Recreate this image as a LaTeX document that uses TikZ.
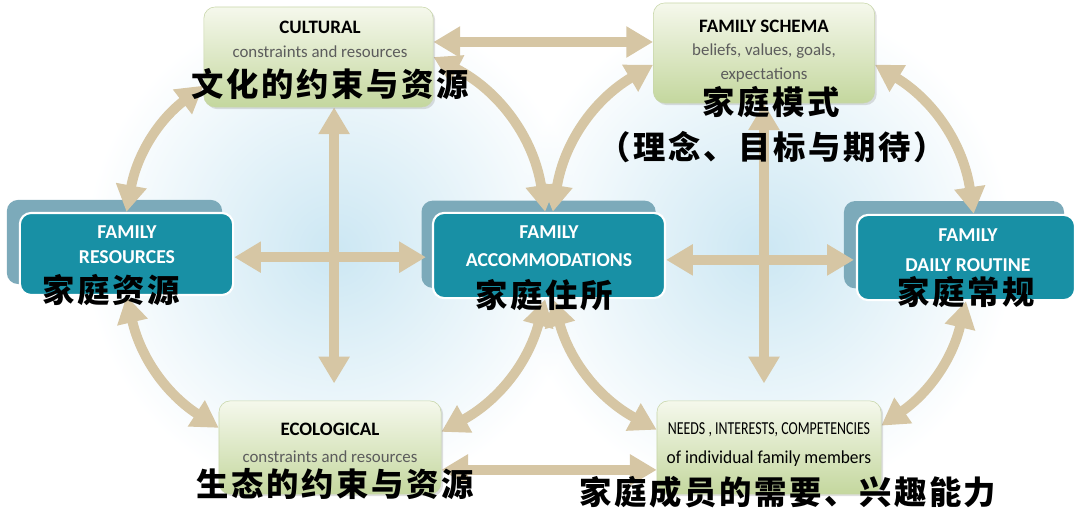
\documentclass[tikz,border=0pt]{standalone}
\usepackage{fontspec}
\setmainfont{Carlito}
\newfontfamily\cjk[LetterSpace=8]{Noto Sans CJK SC}
\usetikzlibrary{arrows.meta,positioning,shadows,fadings}

\definecolor{tanarrow}{RGB}{214,198,164}
\definecolor{boxteal}{RGB}{24,144,165}
\definecolor{backteal}{RGB}{124,170,186}
\definecolor{greentop}{RGB}{245,248,236}
\definecolor{greenbot}{RGB}{196,215,158}
\definecolor{greenline}{RGB}{200,214,170}
\definecolor{subgray}{RGB}{92,92,92}
\definecolor{glowblue}{RGB}{204,231,243}

\pgfdeclarelayer{bg}
\pgfsetlayers{bg,main}
\tikzfading[name=glowfade, inner color=transparent!0, outer color=transparent!100]

\begin{document}
\begin{tikzpicture}[x=0.025cm, y=0.025cm,
	arrowdbl/.style={line width=7pt, draw=tanarrow, {Triangle[width=21pt,length=19pt]}-{Triangle[width=21pt,length=19pt]}},
	greenbox/.style={rounded corners=8pt, draw=greenline, top color=greentop, bottom color=greenbot, drop shadow={shadow xshift=1.5pt, shadow yshift=-1.5pt, opacity=0.25}},
	tealbox/.style={rounded corners=8pt, fill=boxteal, draw=white, line width=1.5pt},
	backbox/.style={rounded corners=8pt, fill=backteal},
	greentxt/.style={align=center, text=subgray, inner sep=0pt, font=\fontsize{12}{17}\selectfont},
	tealtxt/.style={align=center, text=white, inner sep=0pt, font=\bfseries\fontsize{14}{19}\selectfont},
	cntxt/.style={inner sep=0pt, font=\cjk\bfseries\fontsize{23}{26}\selectfont}
	]
	\useasboundingbox (0,0) rectangle (1080,531);

	% boxes
	\node[greenbox, minimum width=5.73cm, minimum height=2.5cm] (cult) at (318.5,474) {};
	\node[greenbox, minimum width=5.53cm, minimum height=2.5cm] (schema) at (764,478) {};
	\node[greenbox, minimum width=5.55cm, minimum height=2.33cm] (eco) at (330,83.5) {};
	\node[greenbox, minimum width=5.6cm, minimum height=2.33cm] (needs) at (769,83.5) {};
	\node[tealbox, minimum width=5.33cm, minimum height=2.05cm] (res) at (126.5,277) {};
	\node[tealbox, minimum width=5.8cm, minimum height=2.13cm] (acc) at (549,275.5) {};
	\node[tealbox, minimum width=5.45cm, minimum height=2.13cm] (rout) at (966,273.5) {};

	\node[greentxt] (culttxt) at (320,492) {{\color{black}\bfseries\fontsize{13.5}{17}\selectfont CULTURAL}\\constraints and resources};
	\node[greentxt, font=\fontsize{12}{16.5}\selectfont] (schematxt) at (764,480) {{\color{black}\bfseries\fontsize{13.5}{16.5}\selectfont FAMILY SCHEMA}\\beliefs, values, goals,\\expectations};
	\node[greentxt, font=\fontsize{12}{19}\selectfont] (ecotxt) at (330,88.5) {{\color{black}\bfseries\fontsize{13.5}{19}\selectfont ECOLOGICAL}\\constraints and resources};
	\node[greentxt, text=black, font=\fontsize{13}{20.6}\selectfont] (needstxt) at (769,86.5) {\scalebox{0.76}[1]{NEEDS , INTERESTS, COMPETENCIES}\\\scalebox{0.95}[1]{of individual family members}};
	\node[tealtxt, font=\bfseries\fontsize{14}{17.8}\selectfont] (restxt) at (127,286.5) {FAMILY\\RESOURCES};
	\node[tealtxt, font=\bfseries\fontsize{14}{20}\selectfont] (acctxt) at (549,285) {FAMILY\\ACCOMMODATIONS};
	\node[tealtxt, font=\bfseries\fontsize{14}{21}\selectfont] (routtxt) at (968,281) {FAMILY\\DAILY ROUTINE};

	\node[cntxt] (cultcn) at (330,447) {文化的约束与资源};
	\node[cntxt] (schemacn) at (771,429) {家庭模式};
	\node[cntxt] (schemacn2) at (772,384) {（理念、目标与期待）};
	\node[cntxt] (rescn) at (111,241) {家庭资源};
	\node[cntxt] (acccn) at (544,236) {家庭住所};
	\node[cntxt] (routcn) at (966,239) {家庭常规};
	\node[cntxt] (ecocn) at (335,47) {生态的约束与资源};
	\node[cntxt] (needscn) at (788,39) {家庭成员的需要、兴趣能力};

	\begin{pgfonlayer}{bg}
		\fill[glowblue, path fading=glowfade] (335,281) circle (250);
		\fill[glowblue, path fading=glowfade] (763,281) circle (250);
		\fill[backbox] ([shift={(-0.3cm,0.3cm)}]res.south west) rectangle ([shift={(-0.3cm,0.3cm)}]res.north east);
		\fill[backbox] ([shift={(-0.26cm,0.28cm)}]acc.south west) rectangle ([shift={(-0.26cm,0.28cm)}]acc.north east);
		\fill[backbox] ([shift={(-0.3cm,0.32cm)}]rout.south west) rectangle ([shift={(-0.3cm,0.32cm)}]rout.north east);

		% straight
		\draw[arrowdbl] ([yshift=0.375cm]cult.east) -- ([yshift=0.375cm]cult.east -| schema.west);
		\draw[arrowdbl] ([yshift=-0.56cm]eco.east) -- ([yshift=-0.56cm]eco.east -| needs.west);
		\draw[arrowdbl, shorten >=0.15cm] ([yshift=-0.08cm]res.east) -- ([yshift=-0.08cm]res.east -| acc.west);
		\draw[arrowdbl, shorten >=0.05cm] ([yshift=-0.11cm]acc.east) -- ([yshift=-0.11cm]acc.east -| rout.west);
		\draw[arrowdbl, shorten >=0.43cm] ([xshift=0.39cm]cult.south) -- ([xshift=0.39cm]cult.south |- eco.north);
		\draw[arrowdbl, shorten >=0.43cm] (schema.south) -- (schema.south |- needs.north);

		% circles
		\draw[arrowdbl] (res.north) to[bend left=21] (cult.194);
		\draw[arrowdbl] (cult.east) to[bend left=27] (acc.95);
		\draw[arrowdbl] (res.south) to[bend right=22] (eco.170);
		\draw[arrowdbl] (eco.8) to[bend right=23] (acc.265);
		\draw[arrowdbl] (acc.85) to[bend left=25] (schema.186);
		\draw[arrowdbl] (schema.354) to[bend left=25] (rout.80);
		\draw[arrowdbl] (acc.275) to[bend right=23] (needs.171);
		\draw[arrowdbl] (rout.south) to[bend left=21] (needs.11);
	\end{pgfonlayer}
\end{tikzpicture}
\end{document}
